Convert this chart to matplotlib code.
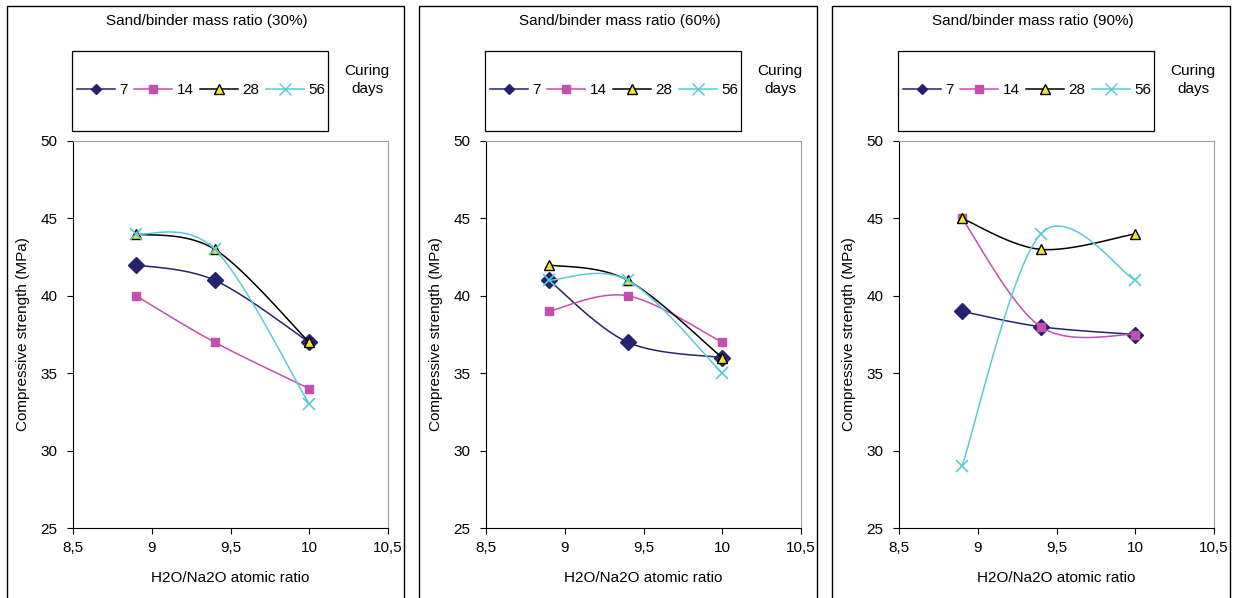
import numpy as np
import matplotlib
matplotlib.use('Agg')
import matplotlib.pyplot as plt
from matplotlib.patches import Rectangle
from matplotlib.lines import Line2D

plt.rcParams['font.family'] = ['Liberation Sans', 'DejaVu Sans']
plt.rcParams['font.size'] = 11

# data
ratio = [8.9, 9.4, 10.0]
panels = ['Sand/binder mass ratio (30%)', 'Sand/binder mass ratio (60%)', 'Sand/binder mass ratio (90%)']
days = ['7', '14', '28', '56']
s30 = {'7': [42, 41, 37], '14': [40, 37, 34], '28': [44, 43, 37], '56': [44, 43, 33]}
s60 = {'7': [41, 37, 36], '14': [39, 40, 37], '28': [42, 41, 36], '56': [41, 41, 35]}
s90 = {'7': [39, 38, 37.5], '14': [45, 38, 37.5], '28': [45, 43, 44], '56': [29, 44, 41]}
series = [s30, s60, s90]

styles = {
    '7': dict(color='#25236E', marker='D', mfc='#25236E', mec='#25236E', ms=8, lms=5),
    '14': dict(color='#C34FAE', marker='s', mfc='#C34FAE', mec='#C34FAE', ms=6, lms=6),
    '28': dict(color='black', marker='^', mfc='#F2EA1C', mec='black', ms=7, lms=7),
    '56': dict(color='#5CCAD6', marker='x', mfc='#5CCAD6', mec='#5CCAD6', ms=8, lms=8),
}


def smooth(x, y, n=40):
    # excel style bezier smoothing
    x = np.asarray(x, float)
    y = np.asarray(y, float)
    px = np.concatenate([[x[0]], x, [x[-1]]])
    py = np.concatenate([[y[0]], y, [y[-1]]])
    xs, ys = [], []
    t = np.linspace(0, 1, n)
    for i in range(1, len(x)):
        p0 = np.array([px[i], py[i]])
        p3 = np.array([px[i + 1], py[i + 1]])
        c1 = p0 + (np.array([px[i + 1], py[i + 1]]) - np.array([px[i - 1], py[i - 1]])) / 6
        c2 = p3 - (np.array([px[i + 2], py[i + 2]]) - np.array([px[i], py[i]])) / 6
        b = ((1 - t) ** 3)[:, None] * p0 + (3 * (1 - t) ** 2 * t)[:, None] * c1 \
            + (3 * (1 - t) * t ** 2)[:, None] * c2 + (t ** 3)[:, None] * p3
        xs.extend(b[:, 0])
        ys.extend(b[:, 1])
    return xs, ys


W, H = 1237, 598
fig = plt.figure(figsize=(W / 100, H / 100), dpi=100)

frames = [(7, 404), (419, 817), (832, 1230)]
ax_left = [73, 486, 899]
ax_top, ax_bot = 141, 528
for k in range(3):
    fx0, fx1 = frames[k]
    fig.patches.append(Rectangle((fx0 / W, -0.01), (fx1 - fx0) / W, (H - 6) / H + 0.01,
                                 transform=fig.transFigure, fill=False, ec='black', lw=1))
    l = ax_left[k]
    ax = fig.add_axes([l / W, 1 - ax_bot / H, 315 / W, (ax_bot - ax_top) / H])
    data = series[k]
    for d in days:
        st = styles[d]
        xs, ys = smooth(ratio, data[d])
        ax.plot(xs, ys, color=st['color'], lw=1.1)
        ax.plot(ratio, data[d], ls='none', marker=st['marker'], mfc=st['mfc'], mec=st['mec'],
                ms=st['ms'], mew=1.0 if d != '56' else 1.2)
    ax.set_xlim(8.5, 10.5)
    ax.set_ylim(25, 50)
    ax.set_xticks([8.5, 9, 9.5, 10, 10.5])
    ax.set_xticklabels(['8,5', '9', '9,5', '10', '10,5'])
    ax.set_yticks([25, 30, 35, 40, 45, 50])
    ax.tick_params(direction='out', length=4, width=0.8, pad=5)
    ax.tick_params(axis='y', pad=7)
    for s in ['top', 'right']:
        ax.spines[s].set_color('#A0A0A0')
    ax.set_xlabel('H2O/Na2O atomic ratio', labelpad=12)
    ax.set_ylabel('Compressive strength (MPa)', labelpad=8)

    fig.text((l + 134) / W, 1 - 21 / H, panels[k], ha='center', va='center')
    fig.text((l + 294) / W, 1 - 80 / H, 'Curing\ndays', ha='center', va='center', linespacing=1.45)
    fig.patches.append(Rectangle(((l - 1) / W, 1 - 131 / H), 256 / W, 80 / H,
                                 transform=fig.transFigure, fill=False, ec='black', lw=0.9))
    handles = []
    for d in days:
        st = styles[d]
        handles.append(Line2D([], [], color=st['color'], lw=1.1, marker=st['marker'],
                              mfc=st['mfc'], mec=st['mec'], ms=st['lms']))
    fig.legend(handles, days, loc='center', bbox_to_anchor=((l + 128) / W, 1 - 90 / H),
               ncol=4, frameon=False, handlelength=2.5, handletextpad=0.3, columnspacing=0.4,
               borderaxespad=0, borderpad=0)

fig.savefig('out.png', dpi=100)
